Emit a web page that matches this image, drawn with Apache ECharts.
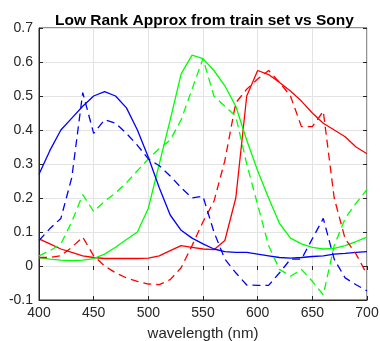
<!DOCTYPE html>
<html>
<head>
<meta charset="utf-8">
<script src="https://cdn.jsdelivr.net/npm/echarts@6/dist/echarts.min.js"></script>
<style>
  html, body { margin: 0; padding: 0; background: #fff; }
  #chart { width: 380px; height: 341px; }
</style>
</head>
<body>
<div id="chart"></div>
<script>
// wavelengths (nm)
var wavelengths = [400, 410, 420, 430, 440, 450, 460, 470, 480, 490, 500, 510, 520, 530, 540, 550,
  560, 570, 580, 590, 600, 610, 620, 630, 640, 650, 660, 670, 680, 690, 700];

// low rank approx (solid)
var blueApprox = [0.27, 0.34, 0.40, 0.435, 0.47, 0.50, 0.513, 0.50, 0.465, 0.40, 0.32, 0.23, 0.15, 0.105, 0.082, 0.065,
  0.05, 0.042, 0.04, 0.04, 0.035, 0.03, 0.025, 0.023, 0.025, 0.028, 0.03, 0.035, 0.037, 0.04, 0.042];
var greenApprox = [0.025, 0.02, 0.017, 0.016, 0.017, 0.022, 0.035, 0.055, 0.078, 0.10, 0.17, 0.30, 0.43, 0.565, 0.62, 0.61,
  0.575, 0.53, 0.47, 0.37, 0.28, 0.20, 0.125, 0.082, 0.065, 0.055, 0.05, 0.052, 0.06, 0.072, 0.085];
var redApprox = [0.08, 0.065, 0.05, 0.04, 0.03, 0.025, 0.022, 0.022, 0.022, 0.022, 0.023, 0.03, 0.045, 0.06, 0.055, 0.05,
  0.048, 0.075, 0.20, 0.50, 0.575, 0.563, 0.54, 0.515, 0.485, 0.45, 0.42, 0.40, 0.38, 0.35, 0.33];

// Sony (dashed)
var blueSony = [0.075, 0.11, 0.14, 0.26, 0.51, 0.39, 0.43, 0.42, 0.39, 0.355, 0.315, 0.295, 0.265, 0.23, 0.20, 0.205,
  0.10, 0.02, -0.02, -0.056, -0.057, -0.057, -0.02, 0.02, 0.02, 0.08, 0.14, 0.02, -0.035, -0.055, -0.073];
var greenSony = [0.03, 0.045, 0.065, 0.13, 0.21, 0.16, 0.19, 0.215, 0.245, 0.28, 0.315, 0.345, 0.37, 0.43, 0.52, 0.61,
  0.50, 0.47, 0.44, 0.30, 0.18, 0.06, -0.01, -0.03, -0.01, -0.045, -0.085, 0.06, 0.14, 0.185, 0.225];
var redSony = [0.025, 0.025, 0.03, 0.055, 0.085, 0.03, 0.0, -0.02, -0.035, -0.045, -0.053, -0.055, -0.04, -0.005, 0.06, 0.13,
  0.19, 0.31, 0.48, 0.52, 0.55, 0.575, 0.54, 0.50, 0.41, 0.41, 0.455, 0.20, 0.08, 0.035, -0.025];

var textColor = '#262626';
var font = 'Liberation Sans, Arial, Helvetica, sans-serif';

function pairs(ys) {
  return wavelengths.map(function (x, i) { return [x, ys[i]]; });
}

function line(name, ys, color, dashed) {
  return {
    name: name,
    type: 'line',
    data: pairs(ys),
    showSymbol: false,
    symbol: 'none',
    animation: false,
    lineStyle: { color: color, width: 1.3, type: dashed ? [8, 5] : 'solid' }
  };
}

var chart = echarts.init(document.getElementById('chart'));

var option = {
  backgroundColor: '#fff',
  title: {
    text: 'Low Rank Approx from train set vs Sony',
    left: 50,
    top: 8,
    textStyle: { fontFamily: font, fontSize: 15.5, fontWeight: 'bold', color: '#000' }
  },
  grid: {
    left: 39, right: 13, top: 28, bottom: 41,
    outerBoundsMode: 'none',
    containLabel: false,
    show: true, borderColor: textColor, borderWidth: 1, backgroundColor: 'transparent'
  },
  xAxis: [{
    type: 'value',
    min: 400, max: 700, interval: 50,
    name: 'wavelength (nm)',
    nameLocation: 'middle',
    nameGap: 26,
    nameTextStyle: { fontFamily: font, fontSize: 15, color: textColor },
    axisLine: { show: true, onZero: false, lineStyle: { color: textColor } },
    axisTick: { show: true, inside: true, length: 4, lineStyle: { color: textColor } },
    axisLabel: { fontFamily: font, fontSize: 14, color: textColor, margin: 6 },
    splitLine: { show: true, lineStyle: { color: '#e3e3e3', width: 1 } }
  }, {
    type: 'value', position: 'top',
    min: 400, max: 700, interval: 50,
    axisLine: { show: false },
    axisTick: { show: true, inside: true, length: 4, lineStyle: { color: textColor } },
    axisLabel: { show: false },
    splitLine: { show: false }
  }],
  yAxis: [{
    type: 'value',
    min: -0.1, max: 0.7, interval: 0.1,
    axisLine: { show: true, onZero: false, lineStyle: { color: textColor } },
    axisTick: { show: true, inside: true, length: 4, lineStyle: { color: textColor } },
    axisLabel: {
      fontFamily: font, fontSize: 14, color: textColor, margin: 6,
      formatter: function (v) { var r = Math.round(v * 10) / 10; return r === 0 ? '0' : r.toFixed(1); }
    },
    splitLine: { show: true, lineStyle: { color: '#e3e3e3', width: 1 } }
  }, {
    type: 'value', position: 'right',
    min: -0.1, max: 0.7, interval: 0.1,
    axisLine: { show: false },
    axisTick: { show: true, inside: true, length: 4, lineStyle: { color: textColor } },
    axisLabel: { show: false },
    splitLine: { show: false }
  }],
  series: [
    line('R approx', redApprox, '#ff0000', false),
    line('G approx', greenApprox, '#00ff00', false),
    line('B approx', blueApprox, '#0000ff', false),
    line('R Sony', redSony, '#ff0000', true),
    line('G Sony', greenSony, '#00ff00', true),
    line('B Sony', blueSony, '#0000ff', true)
  ]
};

chart.setOption(option);
</script>
</body>
</html>
